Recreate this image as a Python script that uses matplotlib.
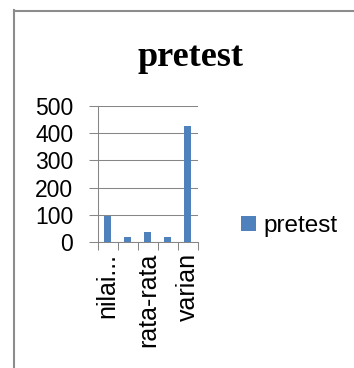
import matplotlib
matplotlib.use("Agg")
import matplotlib.pyplot as plt
from matplotlib.lines import Line2D
from matplotlib.patches import Patch

categories = ["nilai...", "", "rata-rata", "", "varian"]
values = [97, 17, 38, 19, 425]
series_name = "pretest"
title = "pretest"
yticks = [0, 100, 200, 300, 400, 500]

W, H = 354, 368
fig = plt.figure(figsize=(W / 100, H / 100), dpi=100)
fig.patch.set_facecolor("white")

# outer frame (top and left only visible)
fig.add_artist(Line2D([14 / W, 1.0], [1 - 10.5 / H, 1 - 10.5 / H], transform=fig.transFigure,
                      color="#8c8c8c", lw=1.5))
fig.add_artist(Line2D([14.5 / W, 14.5 / W], [0, 1 - 10 / H], transform=fig.transFigure,
                      color="#8c8c8c", lw=1.5))

x0, x1, y0, y1 = 97.5, 198, 106, 242
ax = fig.add_axes([x0 / W, 1 - y1 / H, (x1 - x0) / W, (y1 - y0) / H])

xs = list(range(len(categories)))
ax.bar(xs, values, width=0.35, color="#4F81BD", zorder=3)

ax.set_xlim(-0.5, len(categories) - 0.5)
ax.set_ylim(0, 500)
ax.set_yticks(yticks)
ax.set_yticklabels([str(v) for v in yticks], fontsize=16.5, family="Liberation Sans")
ax.yaxis.grid(True, color="#868686", lw=0.75, zorder=0)
ax.tick_params(axis="y", length=6.5, width=0.75, color="#868686", pad=11)

ax.set_xticks([i - 0.5 for i in range(len(categories) + 1)], minor=False)
ax.set_xticklabels([""] * (len(categories) + 1))
ax.tick_params(axis="x", which="major", length=6, width=0.75, color="#868686")
ax.set_xticks(xs, minor=True)
ax.set_xticklabels(categories, minor=True, rotation=90, fontsize=18,
                   family="Liberation Sans", va="top", ha="center")
ax.tick_params(axis="x", which="minor", length=0, pad=8)

for s in ["top", "right"]:
    ax.spines[s].set_visible(False)
for s in ["left", "bottom"]:
    ax.spines[s].set_color("#868686")
    ax.spines[s].set_linewidth(0.75)
ax.set_facecolor("none")

fig.text(191 / W, 1 - 58 / H, title, ha="center", va="center", fontsize=26,
         fontweight="bold", family="Liberation Serif")

handle = Patch(facecolor="#4F81BD", edgecolor="none")
fig.legend([handle], [series_name], loc="center left",
           bbox_to_anchor=(241 / W, 1 - 226 / H), frameon=False,
           prop={"family": "Liberation Sans", "size": 17.5},
           handlelength=0.62, handleheight=0.62, handletextpad=0.3, borderpad=0,
           borderaxespad=0)

fig.savefig("out.png", dpi=100)
